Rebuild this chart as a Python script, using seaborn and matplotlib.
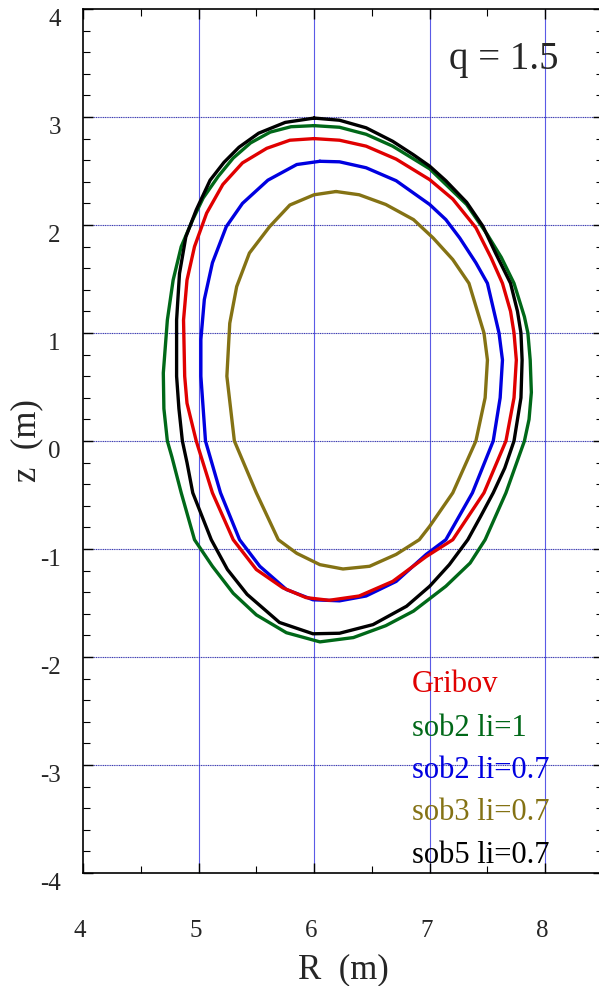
import numpy as np
import pandas as pd
import seaborn as sns
import matplotlib.pyplot as plt
import matplotlib.transforms as mtransforms

# flux surface outlines (R, z), clockwise from the top
sob5_R = [6.00, 6.22, 6.45, 6.68, 6.86, 7.00, 7.14, 7.32, 7.46, 7.57, 7.70, 7.76, 7.79, 7.80,
          7.79, 7.73, 7.65, 7.55, 7.44, 7.33, 7.17, 7.00, 6.80, 6.51, 6.22, 5.99, 5.70, 5.42,
          5.25, 5.11, 4.95, 4.90, 4.86, 4.83, 4.81, 4.81, 4.835, 4.89, 4.98, 5.10, 5.22, 5.35,
          5.52, 5.75, 6.00]
sob5_z = [2.99, 2.97, 2.90, 2.775, 2.65, 2.545, 2.41, 2.21, 1.99, 1.74, 1.46, 1.20, 1.00, 0.75,
          0.40, 0.00, -0.25, -0.48, -0.70, -0.914, -1.145, -1.345, -1.53, -1.70, -1.78, -1.785, -1.68, -1.42,
          -1.19, -0.914, -0.48, -0.20, 0.00, 0.30, 0.60, 1.12, 1.55, 1.89, 2.14, 2.415, 2.58, 2.72,
          2.85, 2.95, 2.99]

sob2_li1_R = [6.00, 6.22, 6.45, 6.68, 7.00, 7.32, 7.50, 7.62, 7.73, 7.82, 7.85, 7.87, 7.88, 7.86,
              7.82, 7.66, 7.48, 7.35, 7.14, 6.86, 6.62, 6.34, 6.05, 5.76, 5.50, 5.30, 5.12, 4.965,
              4.85, 4.77, 4.73, 4.70, 4.695, 4.73, 4.78, 4.85, 4.95, 5.04, 5.17, 5.30, 5.45, 5.62,
              5.80, 6.00]
sob2_li1_z = [2.92, 2.905, 2.84, 2.73, 2.52, 2.19, 1.91, 1.70, 1.46, 1.15, 1.00, 0.75, 0.45, 0.20,
              0.00, -0.48, -0.914, -1.13, -1.345, -1.575, -1.71, -1.82, -1.86, -1.775, -1.61, -1.41, -1.16, -0.914,
              -0.48, -0.15, 0.00, 0.30, 0.63, 1.12, 1.49, 1.80, 2.05, 2.25, 2.45, 2.62, 2.76, 2.86,
              2.91, 2.92]

gribov_R = [6.00, 6.22, 6.45, 6.71, 7.00, 7.20, 7.40, 7.53, 7.63, 7.70, 7.73, 7.75, 7.73, 7.66,
            7.47, 7.20, 6.97, 6.68, 6.39, 6.13, 5.93, 5.73, 5.50, 5.30, 5.12, 4.98, 4.90, 4.88,
            4.87, 4.90, 4.965, 5.07, 5.21, 5.38, 5.59, 5.79, 6.00]
gribov_z = [2.80, 2.785, 2.73, 2.61, 2.42, 2.24, 1.975, 1.70, 1.46, 1.20, 1.00, 0.75, 0.40, 0.00,
            -0.48, -0.914, -1.07, -1.30, -1.435, -1.475, -1.45, -1.36, -1.19, -0.914, -0.48, 0.00, 0.35, 0.60,
            1.12, 1.49, 1.80, 2.11, 2.375, 2.575, 2.71, 2.785, 2.80]

sob2_li07_R = [6.05, 6.22, 6.45, 6.71, 7.00, 7.14, 7.26, 7.40, 7.50, 7.60, 7.63, 7.61, 7.55, 7.37,
               7.14, 6.97, 6.71, 6.45, 6.22, 5.99, 5.76, 5.53, 5.355, 5.19, 5.06, 5.02, 5.02, 5.05,
               5.12, 5.24, 5.38, 5.60, 5.85, 6.05]
sob2_li07_z = [2.59, 2.585, 2.53, 2.41, 2.19, 2.05, 1.88, 1.65, 1.46, 1.00, 0.75, 0.40, 0.00, -0.48,
               -0.914, -1.05, -1.30, -1.435, -1.48, -1.47, -1.375, -1.16, -0.914, -0.48, 0.00, 0.60, 0.94, 1.31,
               1.65, 1.985, 2.20, 2.415, 2.56, 2.59]

sob3_R = [6.19, 6.39, 6.62, 6.86, 7.03, 7.20, 7.34, 7.47, 7.50, 7.48, 7.40, 7.20, 7.00, 6.91,
          6.71, 6.48, 6.25, 6.05, 5.85, 5.69, 5.50, 5.31, 5.245, 5.27, 5.33, 5.44, 5.615, 5.79,
          6.00, 6.19]
sob3_z = [2.31, 2.28, 2.19, 2.05, 1.88, 1.68, 1.46, 1.00, 0.75, 0.40, 0.00, -0.48, -0.79, -0.914,
          -1.05, -1.16, -1.185, -1.145, -1.04, -0.914, -0.48, 0.00, 0.60, 1.09, 1.43, 1.74, 1.985, 2.185,
          2.28, 2.31]

labels = ["Gribov", "sob2 li=1", "sob2 li=0.7", "sob3 li=0.7", "sob5 li=0.7"]
colors = ["#e00000", "#006818", "#0000e0", "#847214", "#000000"]
curves = [(gribov_R, gribov_z), (sob2_li1_R, sob2_li1_z), (sob2_li07_R, sob2_li07_z),
          (sob3_R, sob3_z), (sob5_R, sob5_z)]

frames = []
for name, (R, z) in zip(labels, curves):
    frames.append(pd.DataFrame({"R": R, "z": z, "case": name}))
df = pd.concat(frames, ignore_index=True)

sns.set_style("ticks")
plt.rcParams["font.family"] = ["Liberation Serif", "DejaVu Serif"]
plt.rcParams["axes.unicode_minus"] = False

fig = plt.figure(figsize=(5.99, 9.86), dpi=100)
ax = fig.add_axes([83 / 599, 113 / 986, 520 / 599, 864 / 986])

# grid first so curves sit on top
for xv in [5, 6, 7, 8]:
    ax.axvline(xv, color="#5a5ae6", lw=0.8, zorder=0)
for yv in [-3, -2, -1, 0, 1, 2, 3]:
    ax.axhline(yv, color="#3a3ab0", lw=0.8, ls=(0, (1, 0.6)), zorder=0)

# draw order so black/green sit over the others like the original
order = ["sob3 li=0.7", "sob2 li=0.7", "Gribov", "sob2 li=1", "sob5 li=0.7"]
for name in order:
    sub = df[df["case"] == name]
    sns.lineplot(data=sub, x="R", y="z", sort=False, estimator=None,
                 color=colors[labels.index(name)], lw=2.4, ax=ax, legend=False)

ax.set_xlim(4, 8.5)
ax.set_ylim(-4, 4)
ax.set_xticks([4, 5, 6, 7, 8])
ax.set_yticks(range(-4, 5))
ax.set_xticks(np.arange(4.5, 8.5, 1.0), minor=True)
ax.set_yticks(np.arange(-4, 4.01, 0.2), minor=True)
ax.tick_params(which="both", direction="in", top=True, right=True, color="black")
ax.tick_params(which="major", length=7, width=1.0, labelsize=18, pad=34, axis="x")
ax.tick_params(which="major", length=7, width=1.0, labelsize=18, pad=16, axis="y")
ax.tick_params(which="minor", length=5, width=0.8)
for sp in ax.spines.values():
    sp.set_linewidth(1.2)
    sp.set_color("black")

# tick labels sit a bit low / left, like the original
off = mtransforms.ScaledTranslation(0, -8 / 100, fig.dpi_scale_trans)
for lab in ax.get_yticklabels():
    lab.set_transform(lab.get_transform() + off)
offx = mtransforms.ScaledTranslation(-3 / 100, 0, fig.dpi_scale_trans)
for lab in ax.get_xticklabels():
    lab.set_transform(lab.get_transform() + offx)

ax.set_xlabel("R  (m)", fontsize=25, labelpad=8)
ax.set_ylabel("z  (m)", fontsize=25)
ax.yaxis.set_label_coords(-0.077, 0.5)

ax.text(0.81, 0.941, "q = 1.5", transform=ax.transAxes, fontsize=28,
        ha="center", va="center")

ys = [0.2176, 0.1667, 0.1192, 0.0706, 0.0208]
for name, c, yy in zip(labels, colors, ys):
    ax.text(0.632, yy, name, transform=ax.transAxes, fontsize=22, color=c,
            ha="left", va="center")

fig.savefig("out.png", dpi=100)
